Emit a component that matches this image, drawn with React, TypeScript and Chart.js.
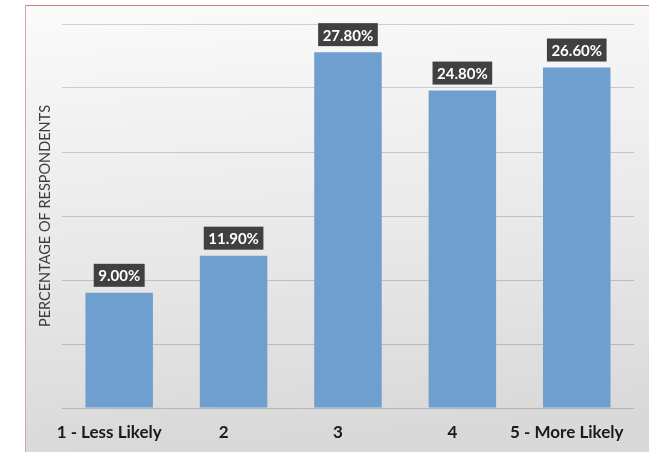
import React, { useEffect, useRef } from "react";
import { Chart, registerables } from "chart.js";

Chart.register(...registerables);

const categories = ["1 - Less Likely", "2", "3", "4", "5 - More Likely"];
const percentages = [9.0, 11.9, 27.8, 24.8, 26.6];
const yMin = 0;
const yMax = 30;
const yStep = 5;

const BAR_COLOR = "#6f9fcf";
const LABEL_BOX = "#404040";

// Framed panel with a soft vertical gradient behind the plot
const panelBackground = {
  id: "panelBackground",
  beforeDraw(chart: Chart) {
    const { ctx, width, height } = chart;
    ctx.save();
    ctx.fillStyle = "#ffffff";
    ctx.fillRect(0, 0, width, height);
    const px = 25;
    const py = 5;
    const g = ctx.createLinearGradient(0, py, 30, height);
    g.addColorStop(0, "#fbfbfb");
    g.addColorStop(0.3, "#f1f1f1");
    g.addColorStop(0.65, "#e6e6e6");
    g.addColorStop(1, "#d9d9d9");
    ctx.fillStyle = g;
    ctx.fillRect(px, py, width - px, height - py);
    ctx.fillStyle = "#c98070";
    ctx.fillRect(px, py, width - px, 1);
    ctx.fillStyle = "#d9a3a3";
    ctx.fillRect(px, py, 1, height - py);
    ctx.restore();
  },
};

// Dark boxed value labels above each bar
const valueBoxes = {
  id: "valueBoxes",
  afterDatasetsDraw(chart: Chart) {
    const { ctx } = chart;
    const meta = chart.getDatasetMeta(0);
    const values = chart.data.datasets[0].data as number[];
    ctx.save();
    ctx.font = "bold 15px Lato";
    ctx.textAlign = "center";
    ctx.textBaseline = "middle";
    meta.data.forEach((el: any, i: number) => {
      const text = values[i].toFixed(2) + "%";
      const w = ctx.measureText(text).width + 9;
      const h = 23;
      const bottom = el.y - 6;
      ctx.fillStyle = LABEL_BOX;
      ctx.fillRect(el.x - w / 2, bottom - h, w, h);
      ctx.fillStyle = "#ffffff";
      ctx.fillText(text, el.x, bottom - h / 2 + 1);
    });
    ctx.restore();
  },
};

export default function App() {
  const canvasRef = useRef<HTMLCanvasElement | null>(null);

  useEffect(() => {
    if (!canvasRef.current) return;
    const chart = new Chart(canvasRef.current, {
      type: "bar",
      data: {
        labels: categories,
        datasets: [
          {
            data: percentages,
            backgroundColor: BAR_COLOR,
            categoryPercentage: 1,
            barPercentage: 0.59,
          },
        ],
      },
      options: {
        animation: false,
        responsive: false,
        maintainAspectRatio: false,
        devicePixelRatio: 1,
        layout: { padding: { left: 37, right: 12.5, top: 24, bottom: -5 } },
        plugins: {
          legend: { display: false },
          tooltip: { enabled: false },
        },
        scales: {
          x: {
            grid: { display: false, drawTicks: false },
            border: { display: false },
            ticks: {
              padding: 14.3,
              labelOffset: -10,
              maxRotation: 0,
              minRotation: 0,
              autoSkip: false,
              color: "#1a1a1a",
              font: { family: "Lato", size: 17, weight: "bold" },
            },
          },
          y: {
            min: yMin,
            max: yMax,
            grid: { color: "rgba(0,0,0,0.17)", lineWidth: 1, drawTicks: false },
            border: { display: false },
            ticks: { display: false, stepSize: yStep },
            title: {
              display: true,
              text: "PERCENTAGE OF RESPONDENTS",
              color: "#3c3c3c",
              font: { family: "Lato", size: 14.5, weight: "normal" },
              padding: { top: 0, bottom: 7.6 },
            },
          },
        },
      },
      plugins: [panelBackground, valueBoxes],
    });
    return () => chart.destroy();
  }, []);

  return (
    <div style={{ position: "fixed", left: 0, top: 0, width: 649, height: 452, overflow: "hidden" }}>
      <canvas
        ref={canvasRef}
        width={649}
        height={452}
        style={{ display: "block", width: 649, height: 452 }}
      />
    </div>
  );
}
